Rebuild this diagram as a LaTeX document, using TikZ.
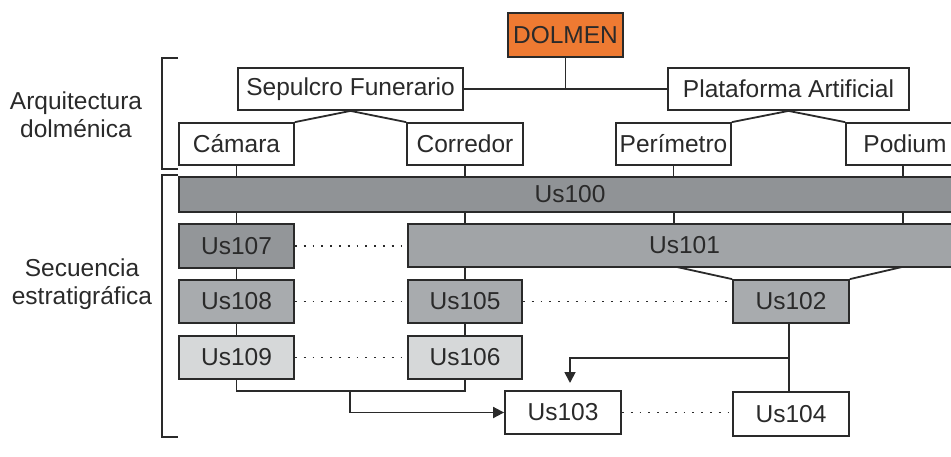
\documentclass[tikz,border=0pt]{standalone}
\usepackage{fontspec}
\setmainfont{Liberation Sans}
\usetikzlibrary{arrows.meta}
\definecolor{ink}{HTML}{2A2A2A}
\definecolor{orangebox}{HTML}{EE7A32}
\definecolor{gA}{HTML}{909396}
\definecolor{gE}{HTML}{939699}
\definecolor{gB}{HTML}{A1A4A7}
\definecolor{gC}{HTML}{A8ABAE}
\definecolor{gD}{HTML}{D6D8D9}
\begin{document}
\begin{tikzpicture}[x=1pt,y=-1pt,
  every node/.style={font=\fontsize{24.5}{28}\selectfont, text=ink, inner sep=0pt},
  box/.style={draw=ink, line width=1.8pt, rectangle, fill=white},
  link/.style={draw=ink, line width=1.8pt},
  dots/.style={draw=ink, line width=1.8pt, dash pattern=on 1.8pt off 7pt},
  arr/.style={link, -{Triangle[width=11pt,length=11pt]}}]
\useasboundingbox (0,0) rectangle (951,456);
% brackets
\draw[link] (178,58) -- (162,58) -- (162,169) -- (178,169);
\draw[link] (178,175) -- (162,175) -- (162,437) -- (178,437);
\node[align=center] (arq) at (76,115) {Arquitectura\\dolménica};
\node[align=center] (sec) at (82,284) {Secuencia\\estratigráfica};
% top nodes
\node[box, fill=orangebox, minimum width=115, minimum height=44] (dol) at (565.5,35) {DOLMEN};
\node[box, minimum width=225, minimum height=42] (sep) at (350.5,89) {Sepulcro Funerario};
\node[box, minimum width=241, minimum height=42] (pla) at (788.5,89) {Plataforma Artificial};
\node[box, minimum width=115, minimum height=42] (cam) at (236.5,144) {Cámara};
\node[box, minimum width=116, minimum height=42] (cor) at (465,144) {Corredor};
\node[box, minimum width=115, minimum height=42] (per) at (673.5,144) {Perímetro};
\node[box, minimum width=118, minimum height=42] (pod) at (905,144) {Podium};
\draw[link] (sep.east) -- (pla.west);
\draw[link] (dol.south) -- (dol.south |- sep.east);
\draw[link] (cam.north east) -- (sep.south) -- (cor.north west);
\draw[link] (per.north east) -- (pla.south) -- (pod.north west);
% strata
\node[box, fill=gA, minimum width=782, minimum height=35] (u100) at (570,194.5) {Us100};
\node[box, fill=gE, minimum width=115, minimum height=44] (u107) at (236.5,246) {Us107};
\node[box, fill=gB, minimum width=553, minimum height=43] (u101) at (684.5,245.5) {Us101};
\node[box, fill=gC, minimum width=115, minimum height=43] (u108) at (236.5,301.5) {Us108};
\node[box, fill=gC, minimum width=114, minimum height=43] (u105) at (465,301.5) {Us105};
\node[box, fill=gC, minimum width=116, minimum height=43] (u102) at (791,301.5) {Us102};
\node[box, fill=gD, minimum width=115, minimum height=43] (u109) at (236.5,357.5) {Us109};
\node[box, fill=gD, minimum width=114, minimum height=43] (u106) at (465,357.5) {Us106};
\node[box, minimum width=116, minimum height=43] (u103) at (563,412.5) {Us103};
\node[box, minimum width=116, minimum height=44] (u104) at (791,414) {Us104};
% verticals
\draw[link] (cam.south) -- (cam.south |- u100.north);
\draw[link] (cor.south) -- (cor.south |- u100.north);
\draw[link] (per.south) -- (per.south |- u100.north);
\draw[link] (903,165) -- (903,177);
\draw[link] (u107.north) -- (u107.north |- u100.south);
\draw[link] (465,212) -- (465,224);
\draw[link] (674,212) -- (674,224);
\draw[link] (903,212) -- (903,224);
\draw[link] (u107.south) -- (u108.north);
\draw[link] (u108.south) -- (u109.north);
\draw[link] (u105.north) -- (u105.north |- u101.south);
\draw[link] (u105.south) -- (u106.north);
\draw[link] (u102.north west) -- (677,267);
\draw[link] (u102.north east) -- (902,267);
% dotted
\draw[dots] (u107.east) -- (u107.east -| u101.west);
\draw[dots] (u108.east) -- (u105.west);
\draw[dots] (u105.east) -- (u102.west);
\draw[dots] (u109.east) -- (u106.west);
\draw[dots] (u103.east) -- (u103.east -| u104.west);
% bottom connectors
\coordinate (j1) at (350,391);
\draw[link] (u109.south) -- (236.5,391) -- (465,391) -- (u106.south);
\draw[arr] (j1) |- (u103.west);
\coordinate (j2) at (789,358);
\draw[link] (789,323) -- (789,392);
\draw[arr] (j2) -- (570,358) -- (570,383);
\end{tikzpicture}
\end{document}
